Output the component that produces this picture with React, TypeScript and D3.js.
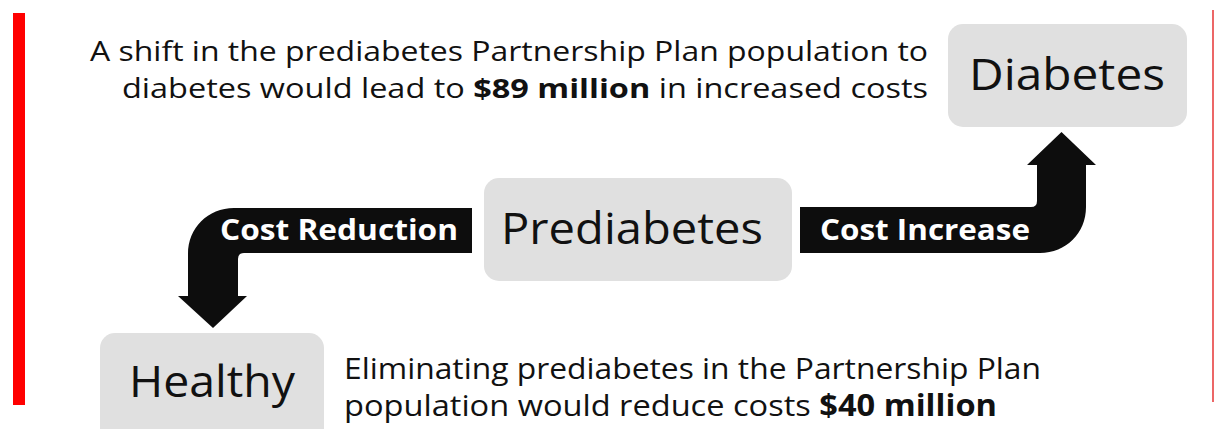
import React from "react";
import * as d3 from "d3";

// stages shown in the flow diagram
const stages = ["Diabetes", "Prediabetes", "Healthy"];
const arrowLabels = ["Cost Increase", "Cost Reduction"];

// caption lines: [plain, bold, plain]
const topLines = [
  ["A shift in the prediabetes Partnership Plan population to", "", ""],
  ["diabetes would lead to ", "$89 million", " in increased costs"],
];
const bottomLines = [
  ["Eliminating prediabetes in the Partnership Plan", "", ""],
  ["population would reduce costs ", "$40 million", ""],
];

const W = 1214;
const H = 429;
const font = "'Open Sans', sans-serif";

// layout for stage boxes (label center + baseline)
const boxes = [
  { x: 948, y: 24, w: 239, h: 103, cx: 1067, by: 90, len: 196 },
  { x: 484, y: 178, w: 308, h: 103, cx: 632, by: 244, len: 262 },
  { x: 100, y: 333, w: 224, h: 110, cx: 212, by: 397, len: 166 },
];

function upArrow() {
  // horizontal bar then bend upwards
  const p = d3.path();
  const top = 207, bot = 253, x0 = 800;
  const sl = 1037, sr = 1086, headY = 165, tipY = 132;
  p.moveTo(x0, top);
  p.lineTo(sl - 6, top);
  p.quadraticCurveTo(sl, top, sl, top - 6);
  p.lineTo(sl, headY);
  p.lineTo(1027, headY);
  p.lineTo((sl + sr) / 2, tipY);
  p.lineTo(1096, headY);
  p.lineTo(sr, headY);
  p.lineTo(sr, bot - 46);
  p.bezierCurveTo(sr, bot - 20, sr - 20, bot, sr - 46, bot);
  p.lineTo(x0, bot);
  p.closePath();
  return p.toString();
}

function downArrow() {
  const p = d3.path();
  const top = 208, bot = 253, x1 = 472;
  const sl = 188, sr = 238, headY = 296, tipY = 328;
  p.moveTo(x1, top);
  p.lineTo(sl + 46, top);
  p.bezierCurveTo(sl + 20, top, sl, top + 20, sl, top + 46);
  p.lineTo(sl, headY);
  p.lineTo(178, headY);
  p.lineTo((sl + sr) / 2, tipY);
  p.lineTo(247, headY);
  p.lineTo(sr, headY);
  p.lineTo(sr, bot + 6);
  p.quadraticCurveTo(sr, bot, sr + 6, bot);
  p.lineTo(x1, bot);
  p.closePath();
  return p.toString();
}

const Caption = ({ lines, x, ys, anchor, lens, size }: any) => (
  <g fontFamily={font} fontSize={size} fill="#111">
    {lines.map((l: string[], i: number) => (
      <text
        key={i}
        x={x}
        y={ys[i]}
        textAnchor={anchor}
        textLength={lens[i]}
        lengthAdjust="spacingAndGlyphs"
      >
        <tspan>{l[0]}</tspan>
        {l[1] && <tspan fontWeight="bold">{l[1]}</tspan>}
        {l[2] && <tspan>{l[2]}</tspan>}
      </text>
    ))}
  </g>
);

export default function App() {
  return (
    <svg width={W} height={H} style={{ position: "absolute", left: 0, top: 0 }}>
      <rect width={W} height={H} fill="#fff" />
      <rect x={13} y={13} width={12} height={392} fill="#ff0000" />
      <line x1={1213} x2={1213} y1={10} y2={402} stroke="#e00000" strokeWidth={1.2} />

      {boxes.map((b, i) => (
        <g key={stages[i]}>
          <rect x={b.x} y={b.y} width={b.w} height={b.h} rx={15} fill="#e0e0e0" />
          <text
            x={b.cx}
            y={b.by}
            textAnchor="middle"
            fontFamily={font}
            fontSize={43}
            fill="#111"
            textLength={b.len}
            lengthAdjust="spacingAndGlyphs"
          >
            {stages[i]}
          </text>
        </g>
      ))}

      <path d={upArrow()} fill="#0d0d0d" />
      <path d={downArrow()} fill="#0d0d0d" />
      <text x={820} y={240} fontFamily={font} fontWeight="bold" fontSize={28} fill="#fff"
        textLength={210} lengthAdjust="spacingAndGlyphs">
        {arrowLabels[0]}
      </text>
      <text x={220} y={240} fontFamily={font} fontWeight="bold" fontSize={28} fill="#fff"
        textLength={238} lengthAdjust="spacingAndGlyphs">
        {arrowLabels[1]}
      </text>

      <Caption lines={topLines} x={928} ys={[61, 98]} anchor="end" lens={[838, 806]} size={27} />
      <Caption lines={bottomLines} x={344} ys={[379, 416]} anchor="start" lens={[697, 653]} size={30} />
    </svg>
  );
}
